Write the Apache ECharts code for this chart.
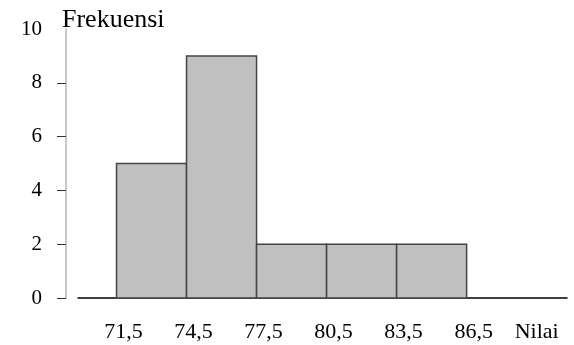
<!DOCTYPE html>
<html>
<head>
<meta charset="utf-8">
<script src="https://cdn.jsdelivr.net/npm/echarts@6/dist/echarts.min.js"></script>
<style>html,body{margin:0;padding:0;background:#fff;}#c{width:574px;height:345px;}</style>
</head>
<body>
<div id="c"></div>
<script>
const binStarts = [71.5, 74.5, 77.5, 80.5, 83.5];
const binEnds = [74.5, 77.5, 80.5, 83.5, 86.5];
const frequencies = [5, 9, 2, 2, 2];
const xTickValues = [71.5, 74.5, 77.5, 80.5, 83.5, 86.5, 89.2];
const xTickLabels = ['71,5', '74,5', '77,5', '80,5', '83,5', '86,5', 'Nilai'];
const yTickValues = [0, 2, 4, 6, 8, 10];
const yTitle = 'Frekuensi';

const FONT = '"Liberation Serif", "Times New Roman", serif';
const data = binStarts.map((s, i) => [s, binEnds[i], frequencies[i]]);

const chart = echarts.init(document.getElementById('c'));
chart.setOption({
  animation: false,
  backgroundColor: '#fff',
  grid: { left: 78, right: 7, top: 29, bottom: 47 },
  xAxis: {
    type: 'value', min: 69.85, max: 90.8,
    splitLine: { show: false },
    axisTick: { show: false },
    axisLine: { lineStyle: { color: '#000', width: 1.5 } },
    axisLabel: {
      customValues: xTickValues,
      formatter: v => { const i = xTickValues.findIndex(t => Math.abs(t - v) < 1e-6); return i >= 0 ? xTickLabels[i] : ''; },
      color: '#000', fontFamily: FONT, fontSize: 22, margin: 23,
      padding: [0, 0, 0, 14]
    }
  },
  yAxis: {
    type: 'value', min: 0, max: 10, interval: 2, offset: 12,
    name: yTitle, nameLocation: 'end', nameGap: -4,
    nameTextStyle: { color: '#000', fontFamily: FONT, fontSize: 26, align: 'left', padding: [0, 0, 0, -4] },
    splitLine: { show: false },
    axisLine: { show: true, lineStyle: { color: '#c8c8c8', width: 2 } },
    axisTick: { show: true, length: 9, customValues: [0, 2, 4, 6, 8], lineStyle: { color: '#333', width: 1 } },
    axisLabel: { customValues: yTickValues, color: '#000', fontFamily: FONT, fontSize: 21, margin: 24 }
  },
  series: [{
    type: 'custom',
    data: data,
    encode: { x: [0, 1], y: 2 },
    renderItem: (params, api) => {
      const p0 = api.coord([api.value(0), api.value(2)]);
      const p1 = api.coord([api.value(1), 0]);
      return {
        type: 'rect',
        shape: { x: p0[0], y: p0[1], width: p1[0] - p0[0], height: p1[1] - p0[1] },
        style: { fill: '#c0c0c0', stroke: '#444', lineWidth: 1.5 }
      };
    }
  }]
});
</script>
</body>
</html>
